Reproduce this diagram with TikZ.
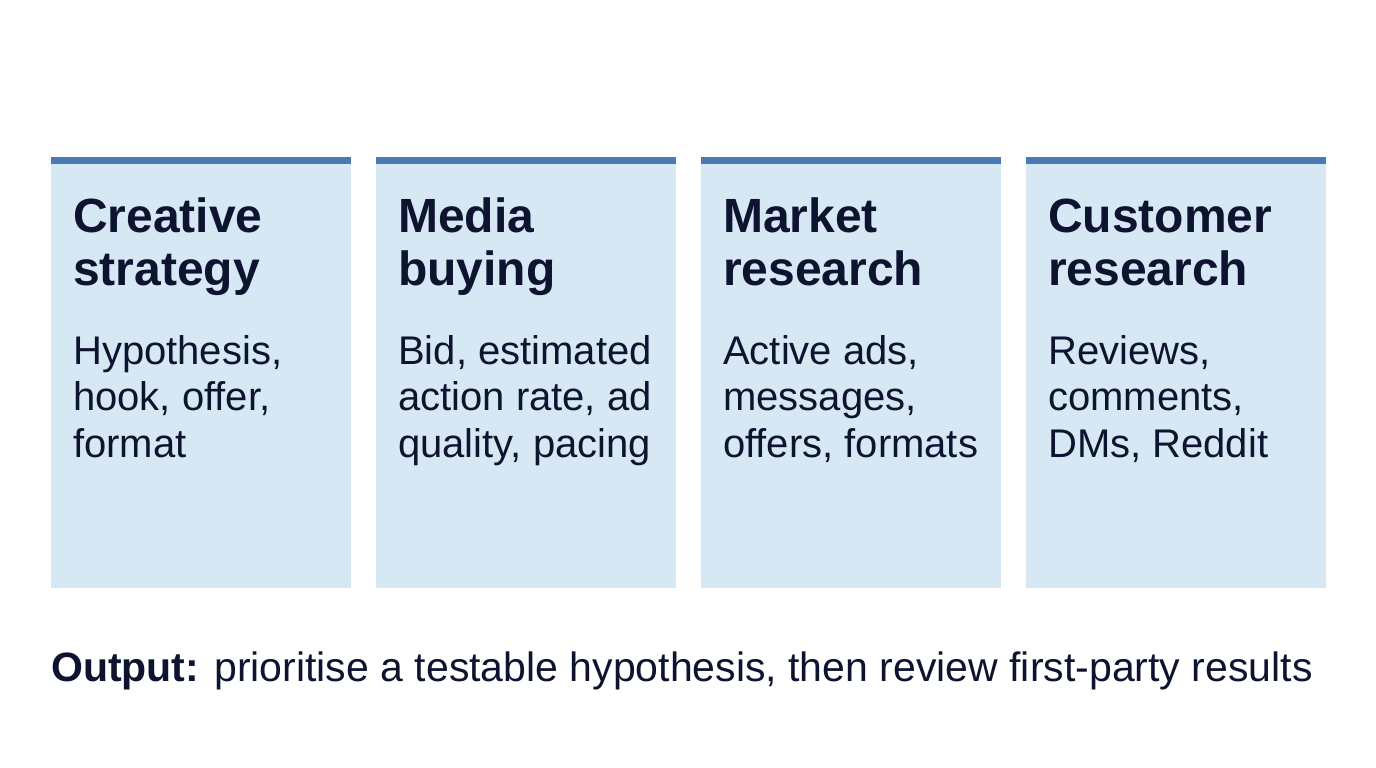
\documentclass[tikz,border=0pt]{standalone}
\usepackage{fontspec}
\setmainfont{Liberation Sans}
\usepackage{tikz}
\usetikzlibrary{positioning}
\definecolor{cardfill}{HTML}{D5E8F4}
\definecolor{cardbar}{HTML}{4A7AB5}
\definecolor{ink}{HTML}{0E1430}

\begin{document}
\begin{tikzpicture}[x=1pt,y=-1pt,
		card/.style={fill=cardfill,minimum width=300pt,minimum height=428pt,inner sep=0pt,anchor=north west},
		bar/.style={cardbar,line width=7pt},
		head/.style={anchor=base west,inner sep=0pt,align=left,text=ink,font=\fontsize{48}{53}\selectfont\bfseries},
		body/.style={anchor=base west,inner sep=0pt,align=left,text=ink,font=\fontsize{40}{46.5}\selectfont}]
		\useasboundingbox (0,0) rectangle (1376,768);
		% the four cards
		\node [card] (creative) at (51,160) {};
		\node [card] (media) at (376,160) {};
		\node [card] (market) at (701,160) {};
		\node [card] (customer) at (1026,160) {};
		\draw [bar] (creative.north west) -- (creative.north east);
		\draw [bar] (media.north west) -- (media.north east);
		\draw [bar] (market.north west) -- (market.north east);
		\draw [bar] (customer.north west) -- (customer.north east);
		% headings (base = last line)
		\node [head] (creative-head) at (73,285) {Creative\\strategy};
		\node [head] (media-head) at (398,285) {Media\\buying};
		\node [head] (market-head) at (723,285) {Market\\research};
		\node [head] (customer-head) at (1048,285) {Customer\\research};
		% details
		\node [body] (creative-text) at (73,457) {Hypothesis,\\hook, offer,\\format};
		\node [body] (media-text) at (398,457) {Bid, estimated\\action rate, ad\\quality, pacing};
		\node [body] (market-text) at (723,457) {Active ads,\\messages,\\offers, formats};
		\node [body] (customer-text) at (1048,457) {Reviews,\\comments,\\DMs, Reddit};
		% output line
		\node [body,font=\fontsize{41}{48}\selectfont] (output) at (51,681) {\textbf{Output:} prioritise a testable hypothesis, then review first-party results};
\end{tikzpicture}
\end{document}
